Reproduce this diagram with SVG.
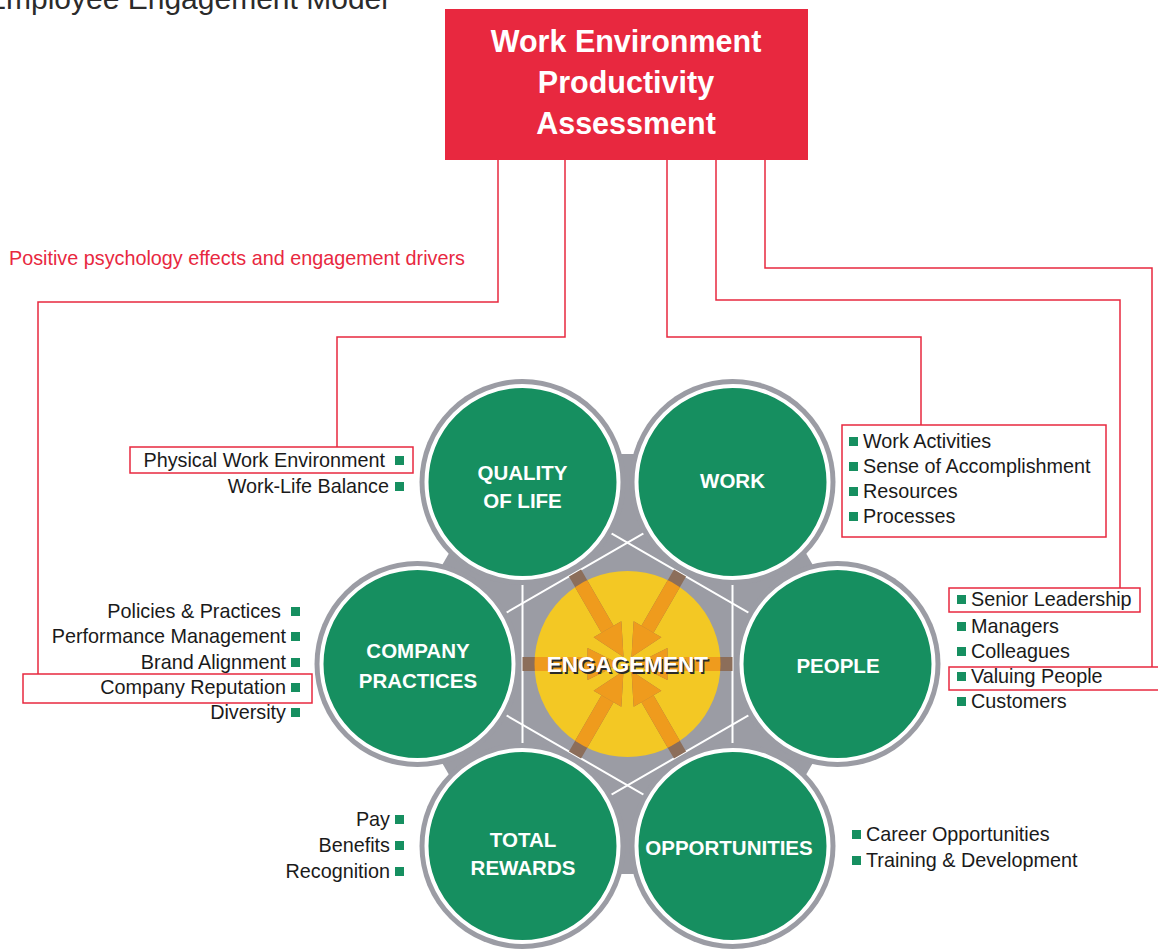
<svg xmlns="http://www.w3.org/2000/svg" width="1158" height="950" viewBox="0 0 1158 950">
<defs>
<style>
.lbl{font-family:"Liberation Sans",Arial,sans-serif;font-size:19.8px;fill:#1a1a1a}
.ctext{font-family:"Liberation Sans",Arial,sans-serif;font-size:20.5px;font-weight:bold;fill:#ffffff;text-anchor:middle}
.ring{fill:#9b9ca4}
.disc{fill:#168f60;stroke:#ffffff;stroke-width:4}
.sq{fill:#168f60}
.conn{fill:none;stroke:#e8283f;stroke-width:1.5}
.hl{fill:none;stroke:#e8283f;stroke-width:1.5}
.hex{fill:none;stroke:#ffffff;stroke-width:2}
.ttl{font-family:"Liberation Sans",Arial,sans-serif;font-size:30.5px;font-weight:bold;fill:#ffffff;text-anchor:middle}
</style>
<clipPath id="yc"><circle cx="627.5" cy="664" r="93"/></clipPath>
<g id="arrow">
<rect x="-105" y="-7" width="65" height="14"/>
<polygon points="-40,-16 -8,0 -40,16"/>
</g>
<g id="arrows">
<use href="#arrow" transform="translate(627.5,664)"/>
<use href="#arrow" transform="translate(627.5,664) rotate(60)"/>
<use href="#arrow" transform="translate(627.5,664) rotate(120)"/>
<use href="#arrow" transform="translate(627.5,664) rotate(180)"/>
<use href="#arrow" transform="translate(627.5,664) rotate(240)"/>
<use href="#arrow" transform="translate(627.5,664) rotate(300)"/>
</g>
</defs>
<rect width="1158" height="950" fill="#ffffff"/>

<text x="-14" y="9" font-family="Liberation Sans, Arial, sans-serif" font-size="30" fill="#2b2b2b">Employee Engagement Model</text>

<g id="title">
<rect x="445" y="9" width="363" height="151" fill="#e8283f"/>
<text class="ttl" x="626" y="52">Work Environment</text>
<text class="ttl" x="626" y="93">Productivity</text>
<text class="ttl" x="626" y="134">Assessment</text>
</g>

<text x="9" y="265" font-family="Liberation Sans, Arial, sans-serif" font-size="19.8" fill="#e8283f">Positive psychology effects and engagement drivers</text>

<g id="connectors">
<polyline class="conn" points="498,160 498,302 38,302 38,674"/>
<polyline class="conn" points="565,160 565,337 337,337 337,447"/>
<polyline class="conn" points="667,160 667,337 921,337 921,425"/>
<polyline class="conn" points="716,160 716,300 1120,300 1120,588"/>
<polyline class="conn" points="765,160 765,268 1152,268 1152,667"/>
</g>

<g id="hub">
<polygon class="ring" points="506.3,454 748.7,454 870,664 748.7,874 506.3,874 385,664"/>
<polygon class="hex" points="522.5,482 837.5,664 522.5,846"/>
<polygon class="hex" points="732.5,482 732.5,846 417.5,664"/>
<circle cx="627.5" cy="664" r="93" fill="#f3c824"/>
<use href="#arrows" fill="#8c6e5a"/>
<use href="#arrows" fill="#ef9b1d" clip-path="url(#yc)"/>
<text x="629" y="674" font-family="Liberation Sans, Arial, sans-serif" font-size="22.5" font-weight="bold" fill="#2a2a2a" text-anchor="middle">ENGAGEMENT</text>
<text x="627.5" y="672" font-family="Liberation Sans, Arial, sans-serif" font-size="22.5" font-weight="bold" fill="#ffffff" text-anchor="middle">ENGAGEMENT</text>
</g>

<g id="quality-of-life">
<circle class="ring" cx="522.5" cy="482" r="103"/>
<circle class="disc" cx="522.5" cy="482" r="96"/>
<text class="ctext" x="522.5" y="480">QUALITY</text>
<text class="ctext" x="522.5" y="508">OF LIFE</text>
</g>
<g id="work">
<circle class="ring" cx="732.5" cy="482" r="103"/>
<circle class="disc" cx="732.5" cy="482" r="96"/>
<text class="ctext" x="732.5" y="488">WORK</text>
</g>
<g id="company-practices">
<circle class="ring" cx="417.5" cy="664" r="103"/>
<circle class="disc" cx="417.5" cy="664" r="96"/>
<text class="ctext" x="418" y="658">COMPANY</text>
<text class="ctext" x="418" y="688">PRACTICES</text>
</g>
<g id="people">
<circle class="ring" cx="837.5" cy="664" r="103"/>
<circle class="disc" cx="837.5" cy="664" r="96"/>
<text class="ctext" x="838" y="673">PEOPLE</text>
</g>
<g id="total-rewards">
<circle class="ring" cx="522.5" cy="846" r="103"/>
<circle class="disc" cx="522.5" cy="846" r="96"/>
<text class="ctext" x="523" y="847">TOTAL</text>
<text class="ctext" x="523" y="875">REWARDS</text>
</g>
<g id="opportunities">
<circle class="ring" cx="732.5" cy="846" r="103"/>
<circle class="disc" cx="732.5" cy="846" r="96"/>
<text class="ctext" x="729" y="855">OPPORTUNITIES</text>
</g>

<g id="qol-list">
<rect class="hl" x="130" y="447" width="283" height="26"/>
<text class="lbl" x="385" y="467" text-anchor="end">Physical Work Environment</text>
<rect class="sq" x="395" y="456" width="9" height="9"/>
<text class="lbl" x="389" y="493" text-anchor="end">Work-Life Balance</text>
<rect class="sq" x="395" y="482" width="9" height="9"/>
</g>

<g id="work-list">
<rect class="hl" x="842" y="425" width="264" height="112"/>
<rect class="sq" x="849" y="437" width="9" height="9"/>
<text class="lbl" x="863" y="448">Work Activities</text>
<rect class="sq" x="849" y="462" width="9" height="9"/>
<text class="lbl" x="863" y="473">Sense of Accomplishment</text>
<rect class="sq" x="849" y="487" width="9" height="9"/>
<text class="lbl" x="863" y="498">Resources</text>
<rect class="sq" x="849" y="512" width="9" height="9"/>
<text class="lbl" x="863" y="523">Processes</text>
</g>

<g id="company-list">
<rect class="hl" x="23" y="674" width="289" height="29"/>
<text class="lbl" x="281" y="618" text-anchor="end">Policies &amp; Practices</text>
<rect class="sq" x="291" y="607" width="9" height="9"/>
<text class="lbl" x="286" y="643" text-anchor="end">Performance Management</text>
<rect class="sq" x="291" y="632" width="9" height="9"/>
<text class="lbl" x="286" y="669" text-anchor="end">Brand Alignment</text>
<rect class="sq" x="291" y="658" width="9" height="9"/>
<text class="lbl" x="286" y="694" text-anchor="end">Company Reputation</text>
<rect class="sq" x="291" y="683" width="9" height="9"/>
<text class="lbl" x="286" y="719" text-anchor="end">Diversity</text>
<rect class="sq" x="291" y="708" width="9" height="9"/>
</g>

<g id="people-list">
<rect class="hl" x="949" y="588" width="191" height="24"/>
<rect class="hl" x="949" y="667" width="215" height="23"/>
<rect class="sq" x="957" y="595" width="9" height="9"/>
<text class="lbl" x="971" y="606">Senior Leadership</text>
<rect class="sq" x="957" y="622" width="9" height="9"/>
<text class="lbl" x="971" y="633">Managers</text>
<rect class="sq" x="957" y="647" width="9" height="9"/>
<text class="lbl" x="971" y="658">Colleagues</text>
<rect class="sq" x="957" y="672" width="9" height="9"/>
<text class="lbl" x="971" y="683">Valuing People</text>
<rect class="sq" x="957" y="697" width="9" height="9"/>
<text class="lbl" x="971" y="708">Customers</text>
</g>

<g id="rewards-list">
<text class="lbl" x="390" y="826" text-anchor="end">Pay</text>
<rect class="sq" x="395" y="815" width="9" height="9"/>
<text class="lbl" x="390" y="852" text-anchor="end">Benefits</text>
<rect class="sq" x="395" y="841" width="9" height="9"/>
<text class="lbl" x="390" y="878" text-anchor="end">Recognition</text>
<rect class="sq" x="395" y="867" width="9" height="9"/>
</g>

<g id="opportunities-list">
<rect class="sq" x="852" y="830" width="9" height="9"/>
<text class="lbl" x="866" y="841">Career Opportunities</text>
<rect class="sq" x="852" y="856" width="9" height="9"/>
<text class="lbl" x="866" y="867">Training &amp; Development</text>
</g>
</svg>
